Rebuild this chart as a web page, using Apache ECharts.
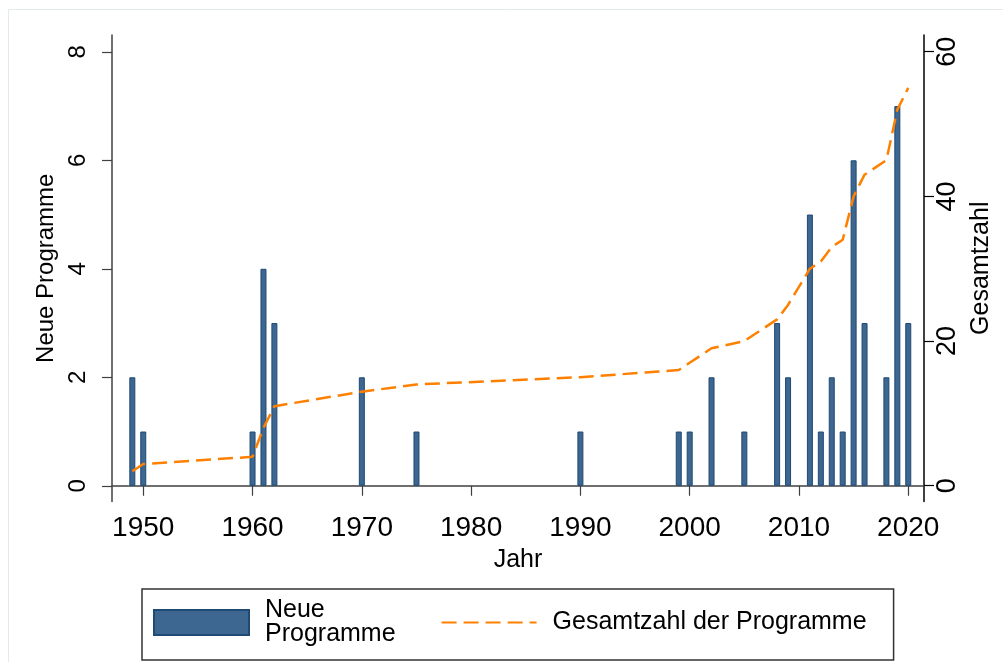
<!DOCTYPE html>
<html>
<head>
<meta charset="utf-8">
<script src="https://cdn.jsdelivr.net/npm/echarts@6/dist/echarts.min.js"></script>
<style>
  html, body { margin: 0; padding: 0; background: #fff; }
  #chart { width: 1003px; height: 662px; }
</style>
</head>
<body>
<div id="chart"></div>
<script>
// Daten
const years = [1949, 1950, 1960, 1961, 1962, 1970, 1975, 1990, 1999, 2000, 2002, 2005,
               2008, 2009, 2011, 2012, 2013, 2014, 2015, 2016, 2018, 2019, 2020];
const newPrograms = [2, 1, 1, 4, 3, 2, 1, 1, 1, 1, 2, 1, 3, 2, 5, 1, 2, 1, 6, 3, 2, 7, 3];
const totalPrograms = [2, 3, 4, 8, 11, 13, 14, 15, 16, 17, 19, 20, 23, 25, 30, 31, 33, 34, 40, 43, 45, 52, 55];
const xTicks = [1950, 1960, 1970, 1980, 1990, 2000, 2010, 2020];
const leftTicks = [0, 2, 4, 6, 8];
const rightTicks = [0, 20, 40, 60];

const FONT = '"Liberation Sans", Arial, sans-serif';
const axisDark = '#404040';
const barFill = '#3d6690';
const barEdge = '#1f4a74';
const orange = '#ff8000';

const chart = echarts.init(document.getElementById('chart'));
const plain = v => String(v);

const option = {
  backgroundColor: '#fff',
  animation: false,
  textStyle: { fontFamily: FONT },
  graphic: [{
    type: 'rect',
    shape: { x: 8.5, y: 9.5, width: 1010, height: 670 },
    style: { fill: 'none', stroke: '#e3eaea', lineWidth: 1 },
    silent: true
  }],
  grid: { left: 112, right: 79, top: 35, bottom: 160.5 },
  xAxis: {
    type: 'value',
    min: 1947.14,
    max: 2021.44,
    name: 'Jahr',
    nameLocation: 'middle',
    nameGap: 40,
    nameTextStyle: { fontSize: 25, color: '#000', fontFamily: FONT },
    axisLine: { show: true, lineStyle: { color: axisDark, width: 1.5 } },
    axisTick: { show: true, length: 10, customValues: xTicks, lineStyle: { color: axisDark, width: 1.2 } },
    axisLabel: { customValues: xTicks, formatter: plain, fontSize: 28, color: '#000', margin: 13, fontFamily: FONT },
    splitLine: { show: false }
  },
  yAxis: [{
    type: 'value',
    position: 'left',
    min: -0.29,
    max: 8.31,
    name: 'Neue Programme',
    nameLocation: 'middle',
    nameGap: 54,
    nameTextStyle: { fontSize: 24, color: '#000', fontFamily: FONT },
    axisLine: { show: true, lineStyle: { color: axisDark, width: 1.5 } },
    axisTick: { show: true, length: 10, customValues: leftTicks, lineStyle: { color: axisDark, width: 1.2 } },
    axisLabel: { customValues: leftTicks, formatter: plain, rotate: 90, fontSize: 24, color: '#000', margin: 22, fontFamily: FONT },
    splitLine: { show: false }
  }, {
    type: 'value',
    position: 'right',
    min: -2.18,
    max: 62.31,
    name: 'Gesamtzahl',
    nameLocation: 'middle',
    nameGap: 36,
    nameTextStyle: { fontSize: 25, color: '#000', fontFamily: FONT },
    axisLine: { show: true, lineStyle: { color: '#000', width: 1.5 } },
    axisTick: { show: true, length: 10, customValues: rightTicks, lineStyle: { color: '#000', width: 1.2 } },
    axisLabel: { customValues: rightTicks, formatter: plain, rotate: 90, fontSize: 27, color: '#000', margin: 10, fontFamily: FONT },
    splitLine: { show: false }
  }],
  legend: {
    left: 142,
    top: 589,
    padding: [9, 27, 13, 11],
    borderColor: '#333',
    borderWidth: 1.5,
    itemWidth: 95,
    itemHeight: 25,
    itemGap: 45,
    textStyle: { fontSize: 25, lineHeight: 24, color: '#000', fontFamily: FONT, padding: [0, 0, 0, 11] },
    formatter: function (name) {
      return name === 'Neue Programme' ? 'Neue\nProgramme' : name;
    },
    data: [
      { name: 'Neue Programme', icon: 'rect' },
      { name: 'Gesamtzahl der Programme', itemStyle: { opacity: 0 } }
    ]
  },
  series: [{
    name: 'Neue Programme',
    type: 'bar',
    xAxisIndex: 0,
    yAxisIndex: 0,
    barWidth: 6,
    itemStyle: { color: barFill, borderColor: barEdge, borderWidth: 1 },
    data: years.map((y, i) => [y, newPrograms[i]])
  }, {
    name: 'Gesamtzahl der Programme',
    type: 'line',
    xAxisIndex: 0,
    yAxisIndex: 1,
    symbol: 'none',
    z: 5,
    lineStyle: { color: orange, width: 2.5, type: [15, 7] },
    itemStyle: { color: orange },
    data: years.map((y, i) => [y, totalPrograms[i]])
  }]
};

chart.setOption(option);
</script>
</body>
</html>
